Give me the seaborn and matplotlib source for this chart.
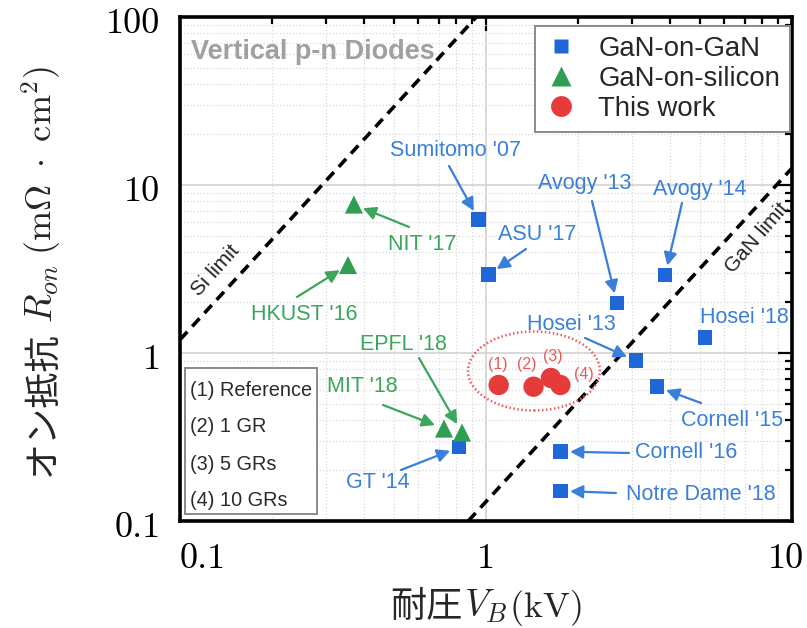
import numpy as np
import pandas as pd
import matplotlib
matplotlib.use("Agg")
import matplotlib.pyplot as plt
import seaborn as sns
from matplotlib.patches import Ellipse, Rectangle
from matplotlib.lines import Line2D
from matplotlib.ticker import NullFormatter, LogLocator
from matplotlib.transforms import ScaledTranslation

# ---------------- data ----------------
gan_names = ["Sumitomo '07", "ASU '17", "Avogy '13", "Avogy '14", "Hosei '18",
             "Hosei '13", "Cornell '15", "Cornell '16", "Notre Dame '18", "GT '14"]
gan_vb = [0.945, 1.02, 2.68, 3.85, 5.2, 3.09, 3.62, 1.75, 1.75, 0.817]
gan_ron = [6.24, 2.93, 1.99, 2.91, 1.24, 0.90, 0.63, 0.259, 0.151, 0.275]

si_names = ["NIT '17", "HKUST '16", "EPFL '18", "MIT '18"]
si_vb = [0.37, 0.354, 0.835, 0.729]
si_ron = [7.65, 3.34, 0.336, 0.355]

tw_names = ["(1)", "(2)", "(3)", "(4)"]
tw_vb = [1.10, 1.43, 1.63, 1.75]
tw_ron = [0.645, 0.63, 0.71, 0.645]

si_limit_vb = [0.1, 0.93]
si_limit_ron = [1.2, 100.0]
gan_limit_vb = [0.875, 10.0]
gan_limit_ron = [0.1, 12.6]

legend_labels = ["GaN-on-GaN", "GaN-on-silicon", "This work"]
box_lines = ["(1) Reference", "(2) 1 GR", "(3) 5 GRs", "(4) 10 GRs"]
x_ticks = [0.1, 1, 10]
x_ticklabels = ["0.1", "1", "10"]
y_ticks = [0.1, 1, 10, 100]
y_ticklabels = ["0.1", "1", "10", "100"]

# ---------------- style ----------------
BLUE = "#1f66d6"
BLUE_T = "#3a7fd9"
GREEN = "#2e9e52"
GREEN_T = "#3ba65c"
RED = "#e63b3b"
RED_T = "#e85a5a"

sns.set_theme(style="white")
plt.rcParams["font.family"] = ["Liberation Sans", "DejaVu Sans"]
plt.rcParams["mathtext.fontset"] = "cm"

W, H = 807, 628
fig = plt.figure(figsize=(W / 100, H / 100), dpi=100)
ax = fig.add_axes([180 / W, 1 - 521 / H, (792 - 180) / W, (521 - 17) / H])


def fp(x, y):
    return (x / W, 1 - y / H)


ax.set_xscale("log")
ax.set_yscale("log")
ax.set_xlim(0.1, 10)
ax.set_ylim(0.1, 100)

# grid
ax.set_axisbelow(True)
ax.grid(which="major", color="#d6d6d6", lw=1.3, ls="-")
ax.grid(which="minor", color="#d9d9d9", lw=0.9, ls=":")

# limit lines
for lx, ly in [(si_limit_vb, si_limit_ron), (gan_limit_vb, gan_limit_ron)]:
    sns.lineplot(x=lx, y=ly, ax=ax, color="black", lw=2.6, dashes=False,
                 linestyle=(0, (3, 2)), zorder=2)

# scatter
sns.scatterplot(x=gan_vb, y=gan_ron, ax=ax, marker="s", s=110, color=BLUE,
                edgecolor="none", linewidth=0, zorder=4)
sns.scatterplot(x=si_vb, y=si_ron, ax=ax, marker="^", s=170, color=GREEN,
                edgecolor="none", linewidth=0, zorder=4)
sns.scatterplot(x=tw_vb, y=tw_ron, ax=ax, marker="o", s=215, color=RED,
                edgecolor="none", linewidth=0, zorder=4)

# ticks
ax.set_xticks(x_ticks)
ax.set_xticklabels(x_ticklabels)
ax.set_yticks(y_ticks)
ax.set_yticklabels(y_ticklabels)
ax.xaxis.set_minor_locator(LogLocator(base=10, subs=np.arange(2, 10)))
ax.yaxis.set_minor_locator(LogLocator(base=10, subs=np.arange(2, 10)))
ax.xaxis.set_minor_formatter(NullFormatter())
ax.yaxis.set_minor_formatter(NullFormatter())
ax.tick_params(which="both", direction="in", top=True, right=True,
               colors="black", width=1.6)
ax.tick_params(which="major", length=10)
ax.tick_params(which="minor", length=5)
ax.tick_params(axis="x", which="major", pad=16)
ax.tick_params(axis="y", which="major", pad=14)
for lab in ax.get_xticklabels() + ax.get_yticklabels():
    lab.set_fontfamily("cmr10")
    lab.set_fontsize(26)
ax.get_xticklabels()[0].set_ha("left")
last = ax.get_xticklabels()[-1]
last.set_transform(last.get_transform() +
                   ScaledTranslation(-0.065, 0, fig.dpi_scale_trans))
for lab in ax.get_yticklabels():
    lab.set_transform(lab.get_transform() +
                      ScaledTranslation(0, -0.04, fig.dpi_scale_trans))
for sp in ax.spines.values():
    sp.set_visible(True)
    sp.set_color("black")
    sp.set_linewidth(2.6)
ax.set_xlabel("")
ax.set_ylabel("")

# legend
handles = [
    Line2D([], [], ls="none", marker="s", ms=10, color=BLUE, mec="none"),
    Line2D([], [], ls="none", marker="^", ms=15, color=GREEN, mec="none"),
    Line2D([], [], ls="none", marker="o", ms=15, color=RED, mec="none"),
]
leg = ax.legend(handles, legend_labels, loc="upper right",
                bbox_to_anchor=((790 - 180) / 612, (521 - 26) / 504),
                borderaxespad=0, fontsize=19.8, frameon=True, fancybox=False,
                edgecolor="#8a8a8a", framealpha=1, handlelength=1.2,
                handletextpad=0.75, labelspacing=0.15, borderpad=0.35)
leg.get_frame().set_linewidth(1.4)

# annotations
blue_text = {
    "Sumitomo '07": ((455, 151), (449, 166)),
    "ASU '17": ((537, 235), (526, 249)),
    "Avogy '13": ((585, 184), (592, 201)),
    "Avogy '14": ((700, 189), (682, 203)),
    "Hosei '18": ((744, 317), None),
    "Hosei '13": ((571, 324), (585, 338)),
    "Cornell '15": ((732, 420), (701, 403)),
    "Cornell '16": ((686, 453), (629, 453)),
    "Notre Dame '18": ((701, 495), (616, 493)),
    "GT '14": ((378, 483), (401, 470)),
}
green_text = {
    "NIT '17": ((422, 244), (409, 227)),
    "HKUST '16": ((304, 314), (297, 297)),
    "EPFL '18": ((403, 344), (419, 358)),
    "MIT '18": ((362, 386), (383, 405)),
}


def label_points(names, xs, ys, pos, tcolor):
    for n, x, y in zip(names, xs, ys):
        tpos, tail = pos[n]
        fig.text(*fp(*tpos), n, ha="center", va="center", fontsize=15.5,
                 color=tcolor)
        if tail is not None:
            ax.annotate("", xy=(x, y), xycoords="data", xytext=fp(*tail),
                        textcoords="figure fraction", annotation_clip=False,
                        arrowprops=dict(arrowstyle="-|>,head_length=0.55,head_width=0.28",
                                        color=tcolor, lw=1.6, shrinkA=0,
                                        shrinkB=7, mutation_scale=14), zorder=3)


label_points(gan_names, gan_vb, gan_ron, blue_text, BLUE_T)
label_points(si_names, si_vb, si_ron, green_text, GREEN_T)

# this-work labels and ellipse
tw_pos = [(498, 364), (527, 364), (553, 356), (584, 374)]
for n, p in zip(tw_names, tw_pos):
    fig.text(*fp(*p), n, ha="center", va="center", fontsize=11.5, color=RED_T)
ell = Ellipse(fp(534, 371), 132 / W, 79 / H, transform=fig.transFigure,
              fill=False, edgecolor=RED_T, lw=1.8, linestyle=(0, (0.6, 1.0)),
              zorder=3)
ax.add_artist(ell)
ell.set_clip_on(False)

# region / limit texts
fig.text(*fp(191, 52), "Vertical p-n Diodes", ha="left", va="center",
         fontsize=19.5, fontweight="bold", color="#a0a0a0")
fig.text(*fp(216, 270), "Si limit", ha="center", va="center", fontsize=15,
         rotation=48, color="#222222")
fig.text(*fp(757, 238), "GaN limit", ha="center", va="center", fontsize=15,
         rotation=49, color="#222222")

# small box legend
box = Rectangle(fp(185, 514), (317 - 185) / W, (514 - 368) / H,
                transform=fig.transFigure, facecolor="white",
                edgecolor="#8a8a8a", lw=1.4, zorder=5)
fig.add_artist(box)
for i, t in enumerate(box_lines):
    fig.text(*fp(190, 390 + 37 * i), t, ha="left", va="center", fontsize=14.3,
             color="#2a2a2a", zorder=6)

# axis labels (composed pieces)
jp = ["Noto Sans CJK JP", "DejaVu Sans"]
yl1 = fig.text(*fp(53, 476), "オン抵抗", rotation=90, rotation_mode="anchor",
               ha="left", va="baseline", fontsize=26, family=jp)
yl2 = ax.annotate(r"$R_{on}$", xy=(53 / W, 1.0),
                  xycoords=("figure fraction", yl1), xytext=(0, 6),
                  textcoords="offset points", rotation=90,
                  rotation_mode="anchor", ha="left", va="baseline",
                  fontsize=27, annotation_clip=False)
yl3 = ax.annotate(r"$(\mathrm{m}\Omega\ \cdot\ \mathrm{cm}^2)$", xy=(53 / W, 1.0),
                  xycoords=("figure fraction", yl2), xytext=(0, 7),
                  textcoords="offset points", rotation=90,
                  rotation_mode="anchor", ha="left", va="baseline",
                  fontsize=26, annotation_clip=False)

xl1 = fig.text(*fp(390, 617), "耐圧", ha="left", va="baseline", fontsize=26,
               family=jp)
xl2 = ax.annotate(r"$V_B$", xy=(1.0, 1 - 617 / H),
                  xycoords=(xl1, "figure fraction"), xytext=(1, 0),
                  textcoords="offset points", ha="left", va="baseline",
                  fontsize=27, annotation_clip=False)
xl3 = ax.annotate(r"$(\mathrm{kV})$", xy=(1.0, 1 - 617 / H),
                  xycoords=(xl2, "figure fraction"), xytext=(1, 0),
                  textcoords="offset points", ha="left", va="baseline",
                  fontsize=26, annotation_clip=False)

fig.savefig("out.png", dpi=100)
